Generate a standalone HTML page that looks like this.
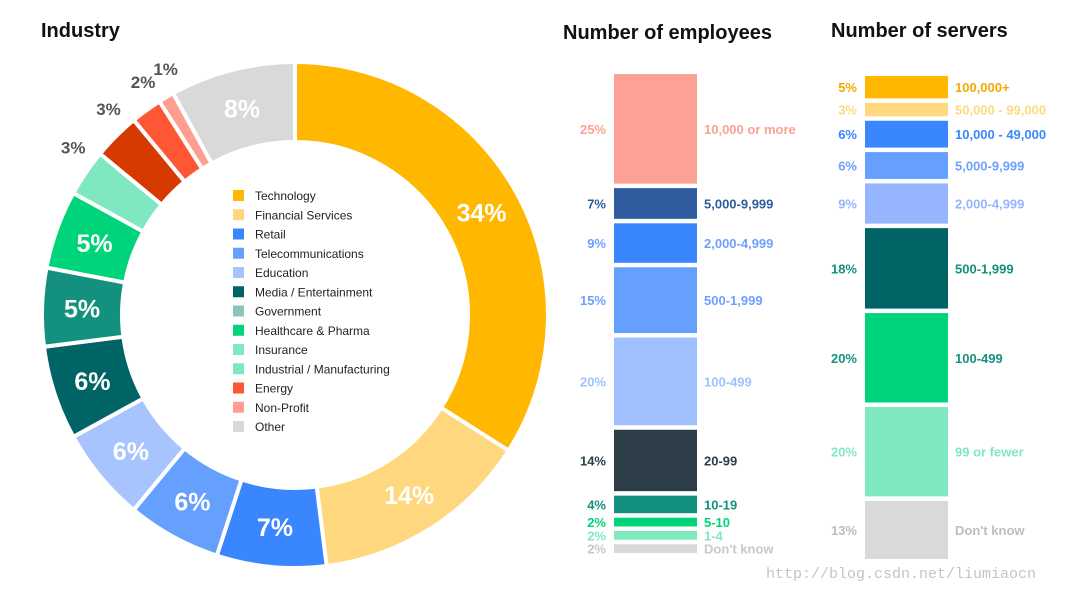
<!DOCTYPE html>
<html><head><meta charset="utf-8"><style>
body{margin:0;background:#fff;font-family:"Liberation Sans",sans-serif;}
svg{display:block}
</style></head><body>
<svg id="c" width="1079" height="593" viewBox="0 0 1079 593" font-family="Liberation Sans, sans-serif">
<text x="41" y="37" font-size="20" font-weight="bold" fill="#111">Industry</text>
<text x="563" y="39" font-size="20" font-weight="bold" fill="#111">Number of employees</text>
<text x="831" y="37" font-size="20" font-weight="bold" fill="#111">Number of servers</text>
<text x="766" y="578" font-size="15" fill="#c4c4c4" style="font-family:'Liberation Mono',monospace">http://blog.csdn.net/liumiaocn</text>
</svg>
<script>
const industryNames=["Technology","Financial Services","Retail","Telecommunications","Education","Media / Entertainment","Government","Healthcare & Pharma","Insurance","Industrial / Manufacturing","Energy","Non-Profit","Other"];
const industryValues=[34,14,7,6,6,6,5,5,3,3,2,1,8];
const industryColors=["#ffb700","#ffd77f","#3a86ff","#66a0ff","#a8c4ff","#006466","#13917e","#00d47a","#80e8c0","#d63a00","#ff5733","#ff9d8f","#d9d9d9"];
const legendColors=["#ffb700","#ffd77f","#3a86ff","#66a0ff","#a8c4ff","#006466","#8cc4bc","#00d47a","#80e8c0","#80e8c0","#ff5733","#ff9d8f","#d9d9d9"];
const empLabels=["10,000 or more","5,000-9,999","2,000-4,999","500-1,999","100-499","20-99","10-19","5-10","1-4","Don't know"];
const empValues=[25,7,9,15,20,14,4,2,2,2];
const empColors=["#fca193","#2e5c9e","#3a86ff","#66a0ff","#a0c0ff","#2d3e48","#14917e","#00d47a","#7fe8bd","#d9d9d9"];
const srvLabels=["100,000+","50,000 - 99,000","10,000 - 49,000","5,000-9,999","2,000-4,999","500-1,999","100-499","99 or fewer","Don't know"];
const srvValues=[5,3,6,6,9,18,20,20,13];
const srvColors=["#ffb700","#ffd880","#3a86ff","#66a0ff","#95b5ff","#006466","#00d47a","#80e8c0","#d9d9d9"];
const textColorsE=["#fca193","#2e5c9e","#6fa0ff","#6fa0ff","#a0c0ff","#2d3e48","#14917e","#00d47a","#7fe8bd","#c8c8c8"];
const textColorsS=["#f5a800","#ffd880","#3a86ff","#6fa0ff","#95b5ff","#14917e","#14917e","#80e8c0","#bdbdbd"];
const NS="http://www.w3.org/2000/svg";
const svg=document.getElementById('c');
function mk(t,a){const e=document.createElementNS(NS,t);for(const k in a)e.setAttribute(k,a[k]);svg.appendChild(e);return e;}
const cx=295,cy=315,R=253,r=173;
const total=industryValues.reduce((a,b)=>a+b,0);
function pt(rad,ang){return [cx+rad*Math.sin(ang),cy-rad*Math.cos(ang)];}
let acc=0;
industryValues.forEach((v,i)=>{
 const a0=acc/total*2*Math.PI,a1=(acc+v)/total*2*Math.PI;acc+=v;
 const p1=pt(R,a0),p2=pt(R,a1),p3=pt(r,a1),p4=pt(r,a0);const lg=(a1-a0)>Math.PI?1:0;
 const p=mk('path',{d:`M${p1}A${R},${R} 0 ${lg} 1 ${p2}L${p3}A${r},${r} 0 ${lg} 0 ${p4}Z`,fill:industryColors[i],stroke:'#fff','stroke-width':4});
 
 
 const am=(a0+a1)/2,inside=v>=5;
 const lp=pt(inside?213:278,am+(inside?0:0.05));
 const t=mk('text',{x:lp[0],y:lp[1]+(inside?9:6),'text-anchor':'middle','font-size':inside?25:17,'font-weight':'bold',fill:inside?'#fff':'#555'});
 t.textContent=v+'%';
 
 
});
industryNames.forEach((n,i)=>{
 const y=190+i*19.25;
 const s=mk('rect',{x:233,y:y,width:11,height:11,fill:legendColors[i]});
 
 
 const t=mk('text',{x:255,y:y+10,'font-size':12,fill:'#222'});t.textContent=n;
 
 
});
function stack(vals,labels,colors,tcols,x,top,bottom,prefix){
 const gap=4.5,n=vals.length,sum=vals.reduce((a,b)=>a+b,0);
 const k=(bottom-top-gap*(n-1))/sum;let y=top;
 vals.forEach((v,i)=>{
  const h=v*k;
  const b=mk('rect',{x:x,y:y,width:83,height:h,fill:colors[i]});
  
  
  const ty=y+h/2+5;
  const a=mk('text',{x:x-8,y:ty,'text-anchor':'end','font-size':13,'font-weight':'bold',fill:tcols[i]});a.textContent=v+'%';
  
  
  const l=mk('text',{x:x+90,y:ty,'font-size':13,'font-weight':'bold',fill:tcols[i]});l.textContent=labels[i];
  
  
  y+=h+gap;
 });
}
stack(empValues,empLabels,empColors,textColorsE,614,74,553,'employees');
stack(srvValues,srvLabels,srvColors,textColorsS,865,76,559,'servers');
</script>
</body></html>
